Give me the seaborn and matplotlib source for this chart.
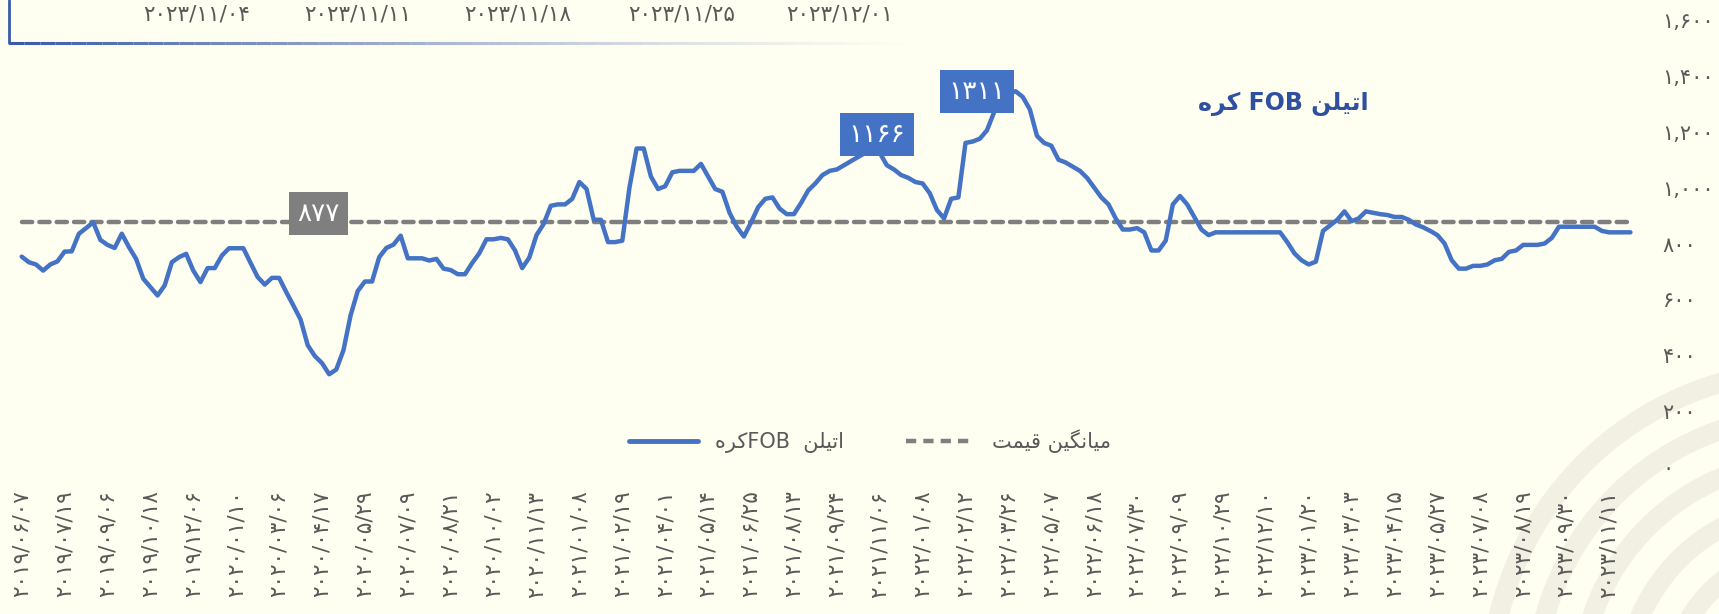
import re
import numpy as np
import pandas as pd
import seaborn as sns
import matplotlib
matplotlib.use("Agg")
import matplotlib.pyplot as plt
from matplotlib.lines import Line2D
from matplotlib.patches import Wedge

sns.set_theme(style="white")
plt.rcParams['font.family'] = ['DejaVu Sans']

# weekly price (USD/t)
prices = [
    753, 733, 725, 703, 725, 736, 771, 772, 835, 855,
    876, 813, 795, 784, 835, 787, 745, 674, 644, 614,
    650, 733, 751, 763, 703, 662, 712, 712, 757, 783,
    783, 783, 731, 680, 653, 677, 677, 626, 578, 528,
    436, 397, 372, 332, 349, 418, 543, 630, 664, 664,
    751, 784, 796, 828, 747, 747, 747, 739, 745, 710,
    705, 690, 690, 730, 765, 815, 815, 820, 815, 775,
    712, 750, 830, 870, 935, 940, 940, 960, 1020, 995,
    885, 885, 805, 805, 810, 1000, 1140, 1140, 1040, 995,
    1005, 1055, 1060, 1060, 1060, 1085, 1040, 995, 985, 910,
    860, 825, 875, 930, 960, 965, 925, 905, 905, 945,
    990, 1015, 1045, 1060, 1065, 1080, 1095, 1110, 1125, 1150,
    1125, 1080, 1065, 1045, 1035, 1020, 1015, 980, 920, 890,
    960, 965, 1160, 1165, 1175, 1205, 1270, 1320, 1335, 1345,
    1325, 1280, 1185, 1160, 1150, 1100, 1090, 1075, 1060, 1035,
    1000, 965, 940, 890, 850, 850, 855, 840, 775, 775,
    810, 940, 970, 940, 895, 850, 830, 840, 840, 840,
    840, 840, 840, 840, 840, 840, 840, 805, 765, 740,
    725, 735, 845, 865, 885, 915, 880, 890, 915, 910,
    905, 902, 895, 895, 885, 868, 858, 845, 830, 800,
    740, 710, 710, 720, 720, 725, 740, 745, 770, 775,
    795, 795, 795, 800, 820, 860, 860, 860, 860, 860,
    860, 845, 840, 840, 840, 840,
]
mean_price = 877

# every sixth week carries a date label
tick_dates = [
    "2019/06/07", "2019/07/19", "2019/09/06", "2019/10/18", "2019/12/06",
    "2020/01/10", "2020/03/06", "2020/04/17", "2020/05/29", "2020/07/09",
    "2020/08/21", "2020/10/02", "2020/11/13", "2021/01/08", "2021/02/19",
    "2021/04/01", "2021/05/14", "2021/06/25", "2021/08/13", "2021/09/24",
    "2021/11/06", "2022/01/08", "2022/02/12", "2022/03/26", "2022/05/07",
    "2022/06/18", "2022/07/30", "2022/09/09", "2022/10/29", "2022/12/10",
    "2023/01/20", "2023/03/03", "2023/04/15", "2023/05/27", "2023/07/08",
    "2023/08/19", "2023/09/30", "2023/11/11",
]
top_dates = ["2023/11/04", "2023/11/11", "2023/11/18", "2023/11/25", "2023/12/01"]
y_ticks = [0, 200, 400, 600, 800, 1000, 1200, 1400, 1600]

# highlighted points: (week index, label)
callouts = [(120, 1166), (134, 1311)]

title = "اتیلن FOB کره"
series_label = "اتیلن  FOBکره"
mean_label = "میانگین قیمت"

BLUE = "#4472C4"
GREY = "#7F7F7F"
BG = "#FEFEF1"
TXT = "#595959"

# --- minimal Persian shaping (matplotlib has no bidi / joining) ---
FORMS = {  # isolated, final, initial, medial
    'ا': ('\uFE8D', '\uFE8E', '\uFE8D', '\uFE8E'),
    'ر': ('\uFEAD', '\uFEAE', '\uFEAD', '\uFEAE'),
    'ت': ('\uFE95', '\uFE96', '\uFE97', '\uFE98'),
    'ل': ('\uFEDD', '\uFEDE', '\uFEDF', '\uFEE0'),
    'ن': ('\uFEE5', '\uFEE6', '\uFEE7', '\uFEE8'),
    'ه': ('\uFEE9', '\uFEEA', '\uFEEB', '\uFEEC'),
    'م': ('\uFEE1', '\uFEE2', '\uFEE3', '\uFEE4'),
    'ق': ('\uFED5', '\uFED6', '\uFED7', '\uFED8'),
    'ی': ('\uFBFC', '\uFBFD', '\uFBFE', '\uFBFF'),
    'ک': ('\uFB8E', '\uFB8F', '\uFB90', '\uFB91'),
    'گ': ('\uFB92', '\uFB93', '\uFB94', '\uFB95'),
}
DUAL = set('تلنهمقیکگ')


def shape(word):
    out = []
    for i, c in enumerate(word):
        if c not in FORMS:
            out.append(c)
            continue
        jp = i > 0 and word[i - 1] in DUAL
        jn = c in DUAL and i + 1 < len(word) and word[i + 1] in FORMS
        out.append(FORMS[c][{(False, False): 0, (True, False): 1,
                             (False, True): 2, (True, True): 3}[(jp, jn)]])
    return ''.join(reversed(out))


def rtl(text):
    runs = re.findall(r'[\u0600-\u06FF]+|[A-Za-z0-9]+|\s+|.', text)
    return ''.join(shape(r) if re.match(r'[\u0600-\u06FF]', r) else r
                   for r in reversed(runs))


FA = str.maketrans("0123456789", "۰۱۲۳۴۵۶۷۸۹")


def fa(s):
    return str(s).translate(FA)


W, H = 1719, 614
fig = plt.figure(figsize=(W / 100, H / 100), dpi=100, facecolor=BG)

# background layer in pixel units (decorative arcs, top strip)
bg = fig.add_axes([0, 0, 1, 1], zorder=0)
bg.set_xlim(0, W)
bg.set_ylim(H, 0)
bg.axis("off")
for r in [330, 285, 240, 195, 150]:
    bg.add_patch(Wedge((1810, 690), r, 90, 270, width=20, color="#F2F0E3", lw=0))
bg.plot([9, 9], [0, 43], color="#3A5BA8", lw=2)
xs = np.linspace(9, 920, 60)
for k in range(len(xs) - 1):
    bg.plot(xs[k:k + 2], [43, 43], color="#3A5BA8", lw=2.2,
            alpha=max(0.0, 1 - k / 58) ** 1.3, solid_capstyle="butt")
for d, x in zip(top_dates, [197, 358, 518, 682, 840]):
    bg.text(x, 15, fa(d), ha="center", va="center", fontsize=15.5, color=TXT)

# main chart
n = len(prices)
px_per_week = 7.15
ax_w = 1650
ax = fig.add_axes([0, 147 / H, ax_w / W, 447 / H], zorder=1)
ax.patch.set_alpha(0)

df = pd.DataFrame({"week": np.arange(n), "price": prices})
sns.lineplot(data=df, x="week", y="price", ax=ax, color=BLUE, lw=3.2,
             solid_joinstyle="round", zorder=3)
ax.hlines(mean_price, 0, n - 1, color=GREY, lw=3.2, linestyles=(0, (2.3, 1.6)),
          capstyle="round", zorder=2)

x0 = -21.7 / px_per_week
ax.set_xlim(x0, x0 + ax_w / px_per_week)
ax.set_ylim(0, 1600)

ax.set_xticks(range(0, 6 * len(tick_dates), 6))
ax.set_xticklabels([fa(d) for d in tick_dates], rotation=90, fontsize=15.5, color=TXT)
ax.yaxis.tick_right()
ax.set_yticks(y_ticks)
ax.set_yticklabels([fa(f"{v:,}") for v in y_ticks], fontsize=15, color=TXT, ha="left")
ax.tick_params(axis="x", length=0, pad=17)
ax.tick_params(axis="y", length=0, pad=9)
ax.set_xlabel("")
ax.set_ylabel("")
for s in ax.spines.values():
    s.set_visible(False)

# value callouts
ax.annotate(fa(mean_price), xy=(41.5, mean_price), xytext=(0, 6), textcoords="offset points",
            ha="center", va="center", fontsize=19, color="white", zorder=5,
            bbox=dict(boxstyle="square,pad=0.32", fc=GREY, ec="none"))
for (i, lab), dy in zip(callouts, [13, 34]):
    ax.annotate(fa(lab), xy=(i, prices[i]), xytext=(-2, dy), textcoords="offset points",
                ha="center", va="center", fontsize=19, color="white", zorder=5,
                bbox=dict(boxstyle="square,pad=0.32", fc=BLUE, ec="none"))

ax.text(1283 / ax_w, (467 - 104) / 447, rtl(title), transform=ax.transAxes,
        ha="center", va="center", fontsize=17, fontweight="bold", color="#2F4FA0")

handles = [Line2D([], [], color=BLUE, lw=3.5),
           Line2D([], [], color=GREY, lw=3.2, ls=(0, (2.3, 1.6)))]
ax.legend(handles, [rtl(series_label), rtl(mean_label)], loc="center",
          bbox_to_anchor=(870 / ax_w, 26 / 447), ncol=2, frameon=False,
          fontsize=15, handlelength=3.3, columnspacing=3.0, labelcolor=TXT)

fig.savefig("out.png", dpi=100, facecolor=BG)
